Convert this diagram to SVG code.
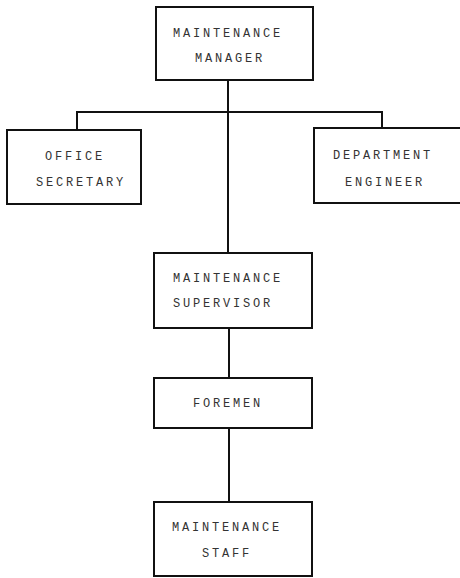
<svg xmlns="http://www.w3.org/2000/svg" width="460" height="578" viewBox="0 0 460 578">
<style>
.box{fill:#fff;stroke:#111;stroke-width:2}
.lbl{font-family:"Liberation Mono","DejaVu Sans Mono",monospace;font-size:12px;letter-spacing:2.8px;fill:#333}
.conn{fill:none;stroke:#111;stroke-width:2}
</style>
<rect width="460" height="578" fill="#fff"/>
<g id="connectors">
<line class="conn" x1="228" y1="80" x2="228" y2="253"/>
<polyline class="conn" points="77,130 77,112 382,112 382,128"/>
<line class="conn" x1="229" y1="328" x2="229" y2="378"/>
<line class="conn" x1="229" y1="428" x2="229" y2="502"/>
</g>
<g id="manager">
<rect class="box" x="156" y="7" width="157" height="73"/>
<text class="lbl" x="173" y="37">MAINTENANCE</text>
<text class="lbl" x="195" y="62">MANAGER</text>
</g>
<g id="secretary">
<rect class="box" x="7" y="130" width="134" height="74"/>
<text class="lbl" x="45" y="160">OFFICE</text>
<text class="lbl" x="36" y="186">SECRETARY</text>
</g>
<g id="engineer">
<rect class="box" x="314" y="128" width="150" height="75"/>
<text class="lbl" x="333" y="159">DEPARTMENT</text>
<text class="lbl" x="345" y="186">ENGINEER</text>
</g>
<g id="supervisor">
<rect class="box" x="154" y="253" width="158" height="75"/>
<text class="lbl" x="173" y="282">MAINTENANCE</text>
<text class="lbl" x="173" y="307">SUPERVISOR</text>
</g>
<g id="foremen">
<rect class="box" x="154" y="378" width="158" height="50"/>
<text class="lbl" x="193" y="407">FOREMEN</text>
</g>
<g id="staff">
<rect class="box" x="154" y="502" width="158" height="74"/>
<text class="lbl" x="172" y="531">MAINTENANCE</text>
<text class="lbl" x="202" y="557">STAFF</text>
</g>
</svg>
